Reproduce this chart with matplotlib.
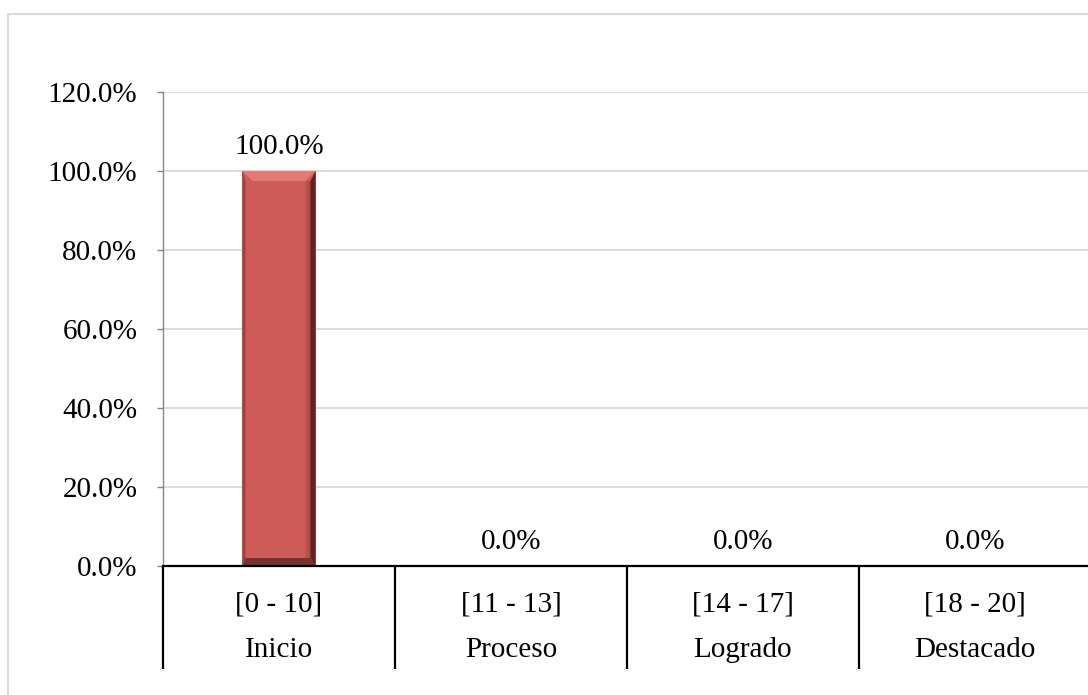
import matplotlib
matplotlib.use("Agg")
import matplotlib.pyplot as plt
from matplotlib.patches import Polygon, Rectangle
from matplotlib.ticker import PercentFormatter

rangos = ["[0 - 10]", "[11 - 13]", "[14 - 17]", "[18 - 20]"]
niveles = ["Inicio", "Proceso", "Logrado", "Destacado"]
porcentajes = [1.0, 0.0, 0.0, 0.0]
y_ticks = [0.0, 0.2, 0.4, 0.6, 0.8, 1.0, 1.2]

plt.rcParams["font.family"] = ["Liberation Serif", "DejaVu Serif"]
FS = 21
BAR = "#CD5B58"

fig = plt.figure(figsize=(10.88, 6.95), dpi=100)
fig.patch.set_facecolor("white")

# chart frame
fig.add_artist(Rectangle((8 / 1088, -0.05), 1.1, 0.05 + 1 - 14 / 695,
                         transform=fig.transFigure, fill=False,
                         edgecolor="#D9D9D9", linewidth=1.5))

ax = fig.add_axes([163 / 1088, (695 - 566) / 695, 928 / 1088, 474 / 695])
ax.set_xlim(-0.5, len(rangos) - 0.5)
ax.set_ylim(0, 1.2)

x = list(range(len(rangos)))
width = 0.315
bars = ax.bar(x, porcentajes, width=width, color=BAR, zorder=3)

# bevel edges on the bars, sized in pixels
fig.canvas.draw()
px_x = (ax.get_xlim()[1] - ax.get_xlim()[0]) / ax.get_window_extent().width
px_y = (ax.get_ylim()[1] - ax.get_ylim()[0]) / ax.get_window_extent().height
for b in bars:
    h = b.get_height()
    if h <= 0:
        continue
    x0, x1 = b.get_x(), b.get_x() + b.get_width()
    bx, by = 10 * px_x, 10 * px_y
    sx = 5 * px_x
    faces = [
        ([(x0, h), (x1, h), (x1 - bx, h - by), (x0 + bx, h - by)], "#E27A76"),
        ([(x1, h), (x1, 0), (x1 - sx, by * 0.8), (x1 - sx, h - by)], "#5E2523"),
        ([(x0, h), (x0, 0), (x0 + sx * 0.6, by * 0.8), (x0 + sx * 0.6, h - by)], "#A6413F"),
        ([(x0, 0), (x1, 0), (x1 - sx, by * 0.8), (x0 + sx * 0.6, by * 0.8)], "#7A302E"),
    ]
    for pts, c in faces:
        ax.add_patch(Polygon(pts, closed=True, facecolor=c, edgecolor="none", zorder=4))
    # soft shading near the right edge
    for i, a in enumerate([0.25, 0.15, 0.08]):
        ax.add_patch(Rectangle((x1 - sx - (i + 1) * 2 * px_x, by * 0.8), 2 * px_x, h - 1.8 * by,
                               facecolor="#3A1010", alpha=a, edgecolor="none", zorder=4))

for xi, v in zip(x, porcentajes):
    ax.annotate(f"{v * 100:.1f}%", (xi, v), xytext=(0, 8), textcoords="offset points",
                ha="center", va="bottom", fontsize=FS, color="black", zorder=5)

ax.set_yticks(y_ticks)
ax.yaxis.set_major_formatter(PercentFormatter(1.0, decimals=1))
ax.grid(axis="y", color="#D9D9D9", linewidth=1.3, zorder=0)
ax.set_axisbelow(True)
ax.tick_params(axis="y", direction="out", length=4.5, width=1, color="#868686",
               labelsize=FS, pad=14)
ax.tick_params(axis="x", length=0, labelbottom=False)

for s in ["top", "right"]:
    ax.spines[s].set_visible(False)
ax.spines["left"].set_color("#868686")
ax.spines["left"].set_linewidth(1)
ax.spines["bottom"].set_color("black")
ax.spines["bottom"].set_linewidth(1.6)
ax.spines["bottom"].set_zorder(6)

# two-level category axis
tr = ax.get_xaxis_transform()
for xi, r, n in zip(x, rangos, niveles):
    ax.text(xi, -0.082, r, transform=tr, ha="center", va="center", fontsize=FS, clip_on=False)
    ax.text(xi, -0.177, n, transform=tr, ha="center", va="center", fontsize=FS, clip_on=False)
for xs in [i - 0.5 for i in range(len(rangos) + 1)]:
    ax.plot([xs, xs], [0, -0.217], transform=tr, color="black", linewidth=1.6,
            clip_on=False, solid_capstyle="butt")

fig.savefig("out.png", dpi=100, facecolor="white")
